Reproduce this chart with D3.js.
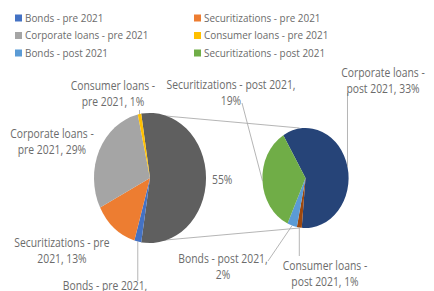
<!DOCTYPE html>
<html>
<head>
<meta charset="utf-8">
<script src="https://cdn.jsdelivr.net/npm/d3@7"></script>
<style>
  body { margin: 0; background: #fff; }
  svg { display: block; font-family: "Open Sans", "Noto Sans", sans-serif; }
</style>
</head>
<body>
<div id="chart"></div>
<script>
const width = 434, height = 291;
const sx = 0.862; // the picture is squeezed sideways, so draw wide and squash

// first pie (pre 2021) + the "other" slice that is split out
const preNames = ['Bonds', 'Securitizations', 'Corporate loans', 'Consumer loans'];
const preValues = [2, 13, 29, 1];
const preColors = ['#4472c4', '#ed7d31', '#a5a5a5', '#ffc000'];
const otherColor = '#5f5f5f';

// second pie (post 2021)
const postNames = ['Corporate loans', 'Consumer loans', 'Bonds', 'Securitizations'];
const postValues = [33, 1, 2, 19];
const postColors = ['#264478', '#9e480e', '#5b9bd5', '#70ad47'];

const legendNames = ['Bonds - pre 2021', 'Securitizations - pre 2021', 'Corporate loans - pre 2021',
  'Consumer loans - pre 2021', 'Bonds - post 2021', 'Securitizations - post 2021'];
const legendColors = ['#4472c4', '#ed7d31', '#a5a5a5', '#ffc000', '#5b9bd5', '#70ad47'];

const otherValue = d3.sum(postValues);

// label lines
const preLabelLines = [
  ['Bonds - pre 2021,', `${preValues[0]}%`],
  ['Securitizations - pre', `2021, ${preValues[1]}%`],
  ['Corporate loans -', `pre 2021, ${preValues[2]}%`],
  ['Consumer loans -', `pre 2021, ${preValues[3]}%`]
];
const postLabelLines = [
  ['Corporate loans -', `post 2021, ${postValues[0]}%`],
  ['Consumer loans -', `post 2021, ${postValues[1]}%`],
  ['Bonds - post 2021,', `${postValues[2]}%`],
  ['Securitizations - post 2021,', `${postValues[3]}%`]
];
// label placement (screen px): centre x, first baseline, leader end (or null)
const preLabelPos = [[105, 290, [null, 281]], [62, 247, null], [52, 138, null], [113, 90, [null, 110]]];
const postLabelPos = [[383, 77, [null, 93]], [325, 270, [null, 256]], [223, 263, [268, 261]], [231, 89, [242, 103]]];

const X = v => v / sx;
const leftPie = {cx: X(150), cy: 178, r: 65};
const rightPie = {cx: X(305.5), cy: 178, r: 50};
const deg = Math.PI / 180;
const textColor = '#6b6b6b';
const lineColor = '#a6a6a6';

const svg = d3.select('#chart').append('svg')
  .attr('width', width)
  .attr('height', height);

const g = svg.append('g').attr('transform', `scale(${sx},1)`);

// legend
const legend = g.append('g').attr('class', 'legend');
legendNames.forEach((name, i) => {
  const col = i % 2, row = Math.floor(i / 2);
  const lx = X(col === 0 ? 15 : 194), ly = 18 + row * 17.5;
  legend.append('rect')
    .attr('x', lx).attr('y', ly - 3.5)
    .attr('width', X(7)).attr('height', 7)
    .attr('fill', legendColors[i]);
  legend.append('text')
    .attr('x', lx + X(10)).attr('y', ly + 4)
    .attr('font-size', 11.5)
    .attr('fill', textColor)
    .text(name);
});

// pies
const leftData = [{name: 'other', value: otherValue, color: otherColor}]
  .concat(preNames.map((n, i) => ({name: n, value: preValues[i], color: preColors[i], idx: i})));
const rightData = postNames.map((n, i) => ({name: n, value: postValues[i], color: postColors[i], idx: i}));

// the "other" slice sits centred on the right side
const otherSpan = otherValue / d3.sum(leftData, d => d.value) * 2 * Math.PI;
const leftArcs = d3.pie().sort(null).value(d => d.value)
  .startAngle(Math.PI / 2 - otherSpan / 2)
  .endAngle(Math.PI / 2 - otherSpan / 2 + 2 * Math.PI)(leftData);
const rightArcs = d3.pie().sort(null).value(d => d.value)
  .startAngle(-31 * deg).endAngle(-31 * deg + 2 * Math.PI)(rightData);

const edgePoint = (p, a, r) => [p.cx + Math.sin(a) * r, p.cy - Math.cos(a) * r];

// connector lines between the pies
const oth = leftArcs[0];
const connectors = [
  [edgePoint(leftPie, oth.startAngle, leftPie.r), [rightPie.cx - X(6), rightPie.cy - rightPie.r]],
  [edgePoint(leftPie, oth.endAngle, leftPie.r), [rightPie.cx - X(6), rightPie.cy + rightPie.r]]
];
g.selectAll('.connector')
  .data(connectors)
  .enter()
  .append('line')
  .attr('class', 'connector')
  .attr('x1', d => d[0][0]).attr('y1', d => d[0][1])
  .attr('x2', d => d[1][0]).attr('y2', d => d[1][1])
  .attr('stroke', lineColor)
  .attr('stroke-width', 0.9);

const drawPie = (pie, arcs) => {
  const arc = d3.arc().innerRadius(0).outerRadius(pie.r);
  g.append('g')
    .attr('transform', `translate(${pie.cx},${pie.cy})`)
    .selectAll('path')
    .data(arcs)
    .enter()
    .append('path')
    .attr('d', arc)
    .attr('fill', d => d.data.color);
};
drawPie(leftPie, leftArcs);
drawPie(rightPie, rightArcs);

// data labels with leader lines
const drawLabels = (pie, arcs, lines, pos) => {
  arcs.forEach(a => {
    if (a.data.idx === undefined) return;
    const i = a.data.idx;
    const [tx, ty, leader] = pos[i];
    if (leader) {
      const mid = (a.startAngle + a.endAngle) / 2;
      const [ax, ay] = edgePoint(pie, mid, pie.r);
      const ex = leader[0] === null ? ax : X(leader[0]);
      g.append('line')
        .attr('x1', ax).attr('y1', ay)
        .attr('x2', ex).attr('y2', leader[1])
        .attr('stroke', lineColor)
        .attr('stroke-width', 0.9);
    }
    const t = g.append('text')
      .attr('text-anchor', 'middle')
      .attr('font-size', 12)
      .attr('fill', textColor);
    lines[i].forEach((s, k) => {
      t.append('tspan').attr('x', X(tx)).attr('y', ty + k * 16.5).text(s);
    });
  });
};
drawLabels(leftPie, leftArcs, preLabelLines, preLabelPos);
drawLabels(rightPie, rightArcs, postLabelLines, postLabelPos);

// label of the split-out slice
g.append('text')
  .attr('x', X(212)).attr('y', 184)
  .attr('font-size', 12)
  .attr('fill', textColor)
  .text(`${otherValue}%`);
</script>
</body>
</html>
